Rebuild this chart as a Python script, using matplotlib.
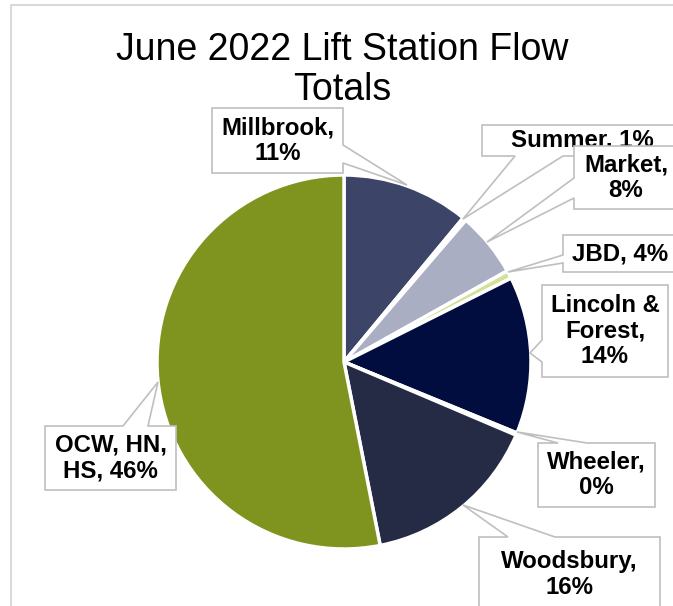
import matplotlib
matplotlib.use('Agg')
import matplotlib.pyplot as plt
from matplotlib.patches import Polygon

W, H = 673, 606

stations = ['Millbrook', 'Summer', 'Market', 'JBD', 'Lincoln & Forest',
            'Wheeler', 'Woodsbury', 'OCW, HN, HS']
shares = [11.0, 0.3, 5.6, 0.7, 13.6, 0.2, 15.5, 53.1]
# data labels as printed on the chart
label_pct = ['11%', '1%', '8%', '4%', '14%', '0%', '16%', '46%']
label_text = ['Millbrook,\n11%', 'Summer, 1%', 'Market,\n8%', 'JBD, 4%',
              'Lincoln &\nForest,\n14%', 'Wheeler,\n0%', 'Woodsbury,\n16%',
              'OCW, HN,\nHS, 46%']
colors = ['#3C4468', '#C9CCDA', '#AAAEC3', '#D5E09A', '#000D3E',
          '#1F2A5A', '#252A45', '#7F941F']

# callout boxes in image pixels: (x0, y0, x1, y1), side, a, b, tip
callouts = [
    ((212, 108, 343, 173), 'right', 145, 163, (407, 185)),
    ((482, 125, 682, 156), 'bottom', 515, 563, (463, 219)),
    ((574, 146, 678, 209), 'left', 178, 198, (487, 242)),
    ((563, 235, 678, 272), 'left', 255, 263, (508, 272)),
    ((542, 285, 668, 377), 'left', 340, 362, (530, 353)),
    ((538, 443, 655, 507), 'top', 558, 587, (517, 432)),
    ((479, 537, 660, 612), 'top', 508, 555, (463, 505)),
    ((45, 426, 176, 490), 'top', 123, 148, (158, 382)),
]

plt.rcParams['font.family'] = ['Liberation Sans', 'DejaVu Sans']


def callout(ax, box, side, a, b, tip, text, z):
    x0, y0, x1, y1 = box
    pts = [(x0, y0)]
    if side == 'top':
        pts += [(a, y0), tip, (b, y0)]
    pts.append((x1, y0))
    if side == 'right':
        pts += [(x1, a), tip, (x1, b)]
    pts.append((x1, y1))
    if side == 'bottom':
        pts += [(b, y1), tip, (a, y1)]
    pts.append((x0, y1))
    if side == 'left':
        pts += [(x0, b), tip, (x0, a)]
    pts = [(x, H - y) for x, y in pts]
    ax.add_patch(Polygon(pts, closed=True, facecolor='white', edgecolor='#BFBFBF',
                         linewidth=1.2, zorder=z))
    ax.text((x0 + x1) / 2, H - (y0 + y1) / 2, text, ha='center', va='center',
            fontsize=17.3, fontweight='bold', linespacing=1.12, color='black',
            zorder=z + 0.5)


fig = plt.figure(figsize=(W / 100, H / 100), dpi=100)
ax = fig.add_axes([0, 0, 1, 1])

ax.pie(shares, colors=colors, startangle=90, counterclock=False,
       center=(344, H - 362), radius=187,
       wedgeprops=dict(edgecolor='white', linewidth=2.5))

for i, (box, side, a, b, tip) in enumerate(callouts):
    callout(ax, box, side, a, b, tip, label_text[i], 3 + i)

# chart frame (only left and top edges visible)
ax.plot([11, 11, W], [0, H - 5, H - 5], color='#D9D9D9', linewidth=1.5, zorder=1)

ax.text(342, H - 32, 'June 2022 Lift Station Flow\nTotals', ha='center', va='top',
        fontsize=27, linespacing=1.13, color='black')

ax.set_xlim(0, W)
ax.set_ylim(0, H)
ax.axis('off')

fig.savefig('out.png', dpi=100)
